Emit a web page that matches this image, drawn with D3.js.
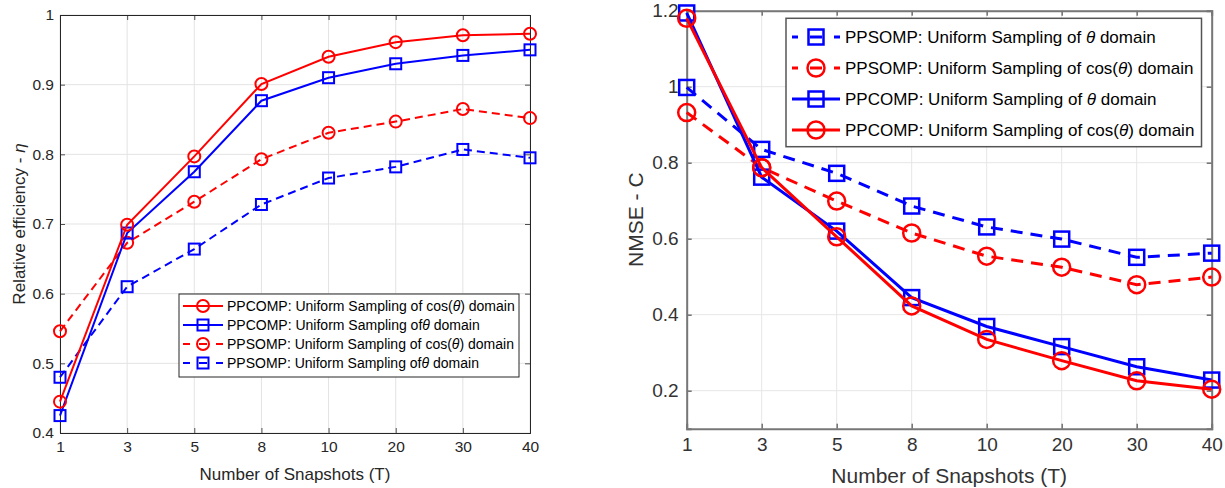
<!DOCTYPE html>
<html>
<head>
<meta charset="utf-8">
<script src="https://cdn.jsdelivr.net/npm/d3@7"></script>
<style>
  body { margin: 0; background: #fff; }
  svg { display: block; font-family: "Liberation Sans", Arial, sans-serif; }
</style>
</head>
<body>
<svg id="chart" width="1225" height="488"></svg>
<script>
// snapshot counts (categorical, evenly spaced)
var snapshots = ["1", "3", "5", "8", "10", "20", "30", "40"];

// left panel: relative efficiency
var effTicks = [0.4, 0.5, 0.6, 0.7, 0.8, 0.9, 1];
var effPpcompCos = [0.445, 0.699, 0.797, 0.901, 0.940, 0.961, 0.971, 0.973];
var effPpcompTheta = [0.425, 0.687, 0.775, 0.877, 0.910, 0.930, 0.942, 0.950];
var effPpsompCos = [0.546, 0.673, 0.732, 0.793, 0.831, 0.847, 0.865, 0.852];
var effPpsompTheta = [0.480, 0.610, 0.664, 0.728, 0.766, 0.782, 0.807, 0.795];

// right panel: NMSE
var nmseTicks = [0.2, 0.4, 0.6, 0.8, 1, 1.2];
var nmsePpsompTheta = [0.998, 0.835, 0.772, 0.686, 0.631, 0.599, 0.551, 0.562];
var nmsePpsompCos = [0.932, 0.787, 0.699, 0.615, 0.554, 0.525, 0.479, 0.499];
var nmsePpcompTheta = [1.194, 0.762, 0.620, 0.445, 0.369, 0.316, 0.263, 0.228];
var nmsePpcompCos = [1.180, 0.787, 0.605, 0.423, 0.335, 0.279, 0.226, 0.204];

var RED = "#ff0000", BLUE = "#0000ff";
var svg = d3.select("#chart");

function labelText(sel, pre, sym, post) {
  sel.append("tspan").text(pre);
  sel.append("tspan").style("font-style", "italic").text(sym);
  sel.append("tspan").text(post);
}

function drawPanel(p) {
  var x = d3.scalePoint().domain(snapshots).range([p.left, p.right]);
  var y = d3.scaleLinear().domain(p.yDomain).range([p.bottom, p.top]);
  var g = svg.append("g");

  // grid
  g.selectAll(".gx").data(snapshots).enter().append("line")
    .attr("x1", d => x(d)).attr("x2", d => x(d))
    .attr("y1", p.top).attr("y2", p.bottom)
    .attr("stroke", p.grid).attr("stroke-width", 1);
  g.selectAll(".gy").data(p.ticks).enter().append("line")
    .attr("x1", p.left).attr("x2", p.right)
    .attr("y1", d => y(d)).attr("y2", d => y(d))
    .attr("stroke", p.grid).attr("stroke-width", 1);

  // axes with inward ticks, mirrored on top/right
  var tk = 5;
  var ax = g.append("g").attr("transform", "translate(0," + p.bottom + ")")
    .call(d3.axisBottom(x).tickSize(-tk).tickPadding(p.xPad));
  var axT = g.append("g").attr("transform", "translate(0," + p.top + ")")
    .call(d3.axisTop(x).tickSize(-tk).tickFormat(""));
  var ay = g.append("g").attr("transform", "translate(" + p.left + ",0)")
    .call(d3.axisLeft(y).tickValues(p.ticks).tickSize(-tk).tickPadding(p.yPad).tickFormat(d3.format("~g")));
  var ayR = g.append("g").attr("transform", "translate(" + p.right + ",0)")
    .call(d3.axisRight(y).tickValues(p.ticks).tickSize(-tk).tickFormat(""));
  [ax, axT, ay, ayR].forEach(function (a) {
    a.select(".domain").attr("stroke", p.axis).attr("stroke-width", p.axisW);
    a.selectAll(".tick line").attr("stroke", p.axis).attr("stroke-width", p.axisW * 0.8);
    a.selectAll("text").attr("fill", p.textColor).style("font-size", p.tickFont + "px")
      .style("font-family", "Liberation Sans, Arial, sans-serif");
  });
  ax.selectAll("text").attr("dy", "0.71em");

  // x label
  g.append("text").attr("x", (p.left + p.right) / 2).attr("y", p.xLabelY)
    .attr("text-anchor", "middle").attr("fill", p.textColor)
    .style("font-size", p.labelFont + "px").text("Number of Snapshots (T)");
  // y label
  var yl = g.append("text").attr("transform", "translate(" + p.yLabelX + "," + (p.top + p.bottom) / 2 + ") rotate(-90)")
    .attr("text-anchor", "middle").attr("fill", p.textColor)
    .style("font-size", p.labelFont + "px");
  labelText(yl, p.yLabel[0], p.yLabel[1], p.yLabel[2]);

  // series
  var line = d3.line().x((d, i) => x(snapshots[i])).y(d => y(d));
  p.series.forEach(function (s) {
    var sg = g.append("g");
    sg.append("path").datum(s.values).attr("d", line)
      .attr("fill", "none").attr("stroke", s.color).attr("stroke-width", p.lineW)
      .attr("stroke-dasharray", s.dashed ? p.dash : null);
    drawMarkers(sg, s, s.values.map((v, i) => [x(snapshots[i]), y(v)]), p);
  });

  // legend
  var lg = g.append("g");
  lg.append("rect").attr("x", p.leg.x).attr("y", p.leg.y).attr("width", p.leg.w).attr("height", p.leg.h)
    .attr("fill", "#fff").attr("stroke", p.leg.stroke).attr("stroke-width", p.leg.sw);
  p.legOrder.forEach(function (s, i) {
    var cy = p.leg.row0 + i * p.leg.rowH;
    var x0 = p.leg.sx0, x1 = p.leg.sx1;
    lg.append("line").attr("x1", x0).attr("x2", x1).attr("y1", cy).attr("y2", cy)
      .attr("stroke", s.color).attr("stroke-width", p.lineW)
      .attr("stroke-dasharray", s.dashed ? p.leg.dash : null);
    drawMarkers(lg, s, [[(x0 + x1) / 2, cy]], p);
    var t = lg.append("text").attr("x", p.leg.tx).attr("y", cy).attr("dy", "0.35em")
      .attr("fill", "#000").style("font-size", p.leg.font + "px");
    labelText(t, s.name[0], s.name[1], s.name[2]);
  });
}

function drawMarkers(sel, s, pts, p) {
  if (s.marker === "circle") {
    sel.selectAll(null).data(pts).enter().append("circle")
      .attr("cx", d => d[0]).attr("cy", d => d[1]).attr("r", p.circR)
      .attr("fill", "none").attr("stroke", s.color).attr("stroke-width", p.markW);
  } else {
    sel.selectAll(null).data(pts).enter().append("rect")
      .attr("x", d => d[0] - p.sqH).attr("y", d => d[1] - p.sqH)
      .attr("width", p.sqH * 2).attr("height", p.sqH * 2)
      .attr("fill", "none").attr("stroke", s.color).attr("stroke-width", p.markW);
  }
}

// ---- left panel
var lCos1 = { values: effPpcompCos, color: RED, dashed: false, marker: "circle", name: ["PPCOMP: Uniform Sampling of cos(", "θ", ") domain"] };
var lTh1 = { values: effPpcompTheta, color: BLUE, dashed: false, marker: "square", name: ["PPCOMP: Uniform Sampling of", "θ", " domain"] };
var lCos2 = { values: effPpsompCos, color: RED, dashed: true, marker: "circle", name: ["PPSOMP: Uniform Sampling of cos(", "θ", ") domain"] };
var lTh2 = { values: effPpsompTheta, color: BLUE, dashed: true, marker: "square", name: ["PPSOMP: Uniform Sampling of", "θ", " domain"] };

drawPanel({
  left: 60, right: 530, top: 15, bottom: 433, yDomain: [0.4, 1], ticks: effTicks,
  grid: "#e3e3e3", axis: "#262626", axisW: 1, textColor: "#262626",
  tickFont: 15.5, labelFont: 17, xPad: 8, yPad: 6, xLabelY: 480,
  yLabelX: 25, yLabel: ["Relative efficiency - ", "η", ""],
  lineW: 2, dash: "8,5", circR: 6, sqH: 5.5, markW: 2,
  series: [lCos2, lTh2, lTh1, lCos1],
  legOrder: [lCos1, lTh1, lCos2, lTh2],
  leg: { x: 179, y: 294, w: 340, h: 83, stroke: "#262626", sw: 1, row0: 306, rowH: 19,
         sx0: 183, sx1: 223, tx: 227, font: 14, dash: "7,9,8,9,7" }
});

// ---- right panel
var rTh2 = { values: nmsePpsompTheta, color: BLUE, dashed: true, marker: "square", name: ["PPSOMP: Uniform Sampling of ", "θ", " domain"] };
var rCos2 = { values: nmsePpsompCos, color: RED, dashed: true, marker: "circle", name: ["PPSOMP: Uniform Sampling of cos(", "θ", ") domain"] };
var rTh1 = { values: nmsePpcompTheta, color: BLUE, dashed: false, marker: "square", name: ["PPCOMP: Uniform Sampling of ", "θ", " domain"] };
var rCos1 = { values: nmsePpcompCos, color: RED, dashed: false, marker: "circle", name: ["PPCOMP: Uniform Sampling of cos(", "θ", ") domain"] };

drawPanel({
  left: 686.7, right: 1211.7, top: 10.7, bottom: 428.7, yDomain: [0.1, 1.2], ticks: nmseTicks,
  grid: "#e6e6e6", axis: "#777", axisW: 2, textColor: "#333",
  tickFont: 19, labelFont: 21, xPad: 9, yPad: 8, xLabelY: 483,
  yLabelX: 643, yLabel: ["NMSE - C", "", ""],
  lineW: 3, dash: "12,8", circR: 8.5, sqH: 7.5, markW: 2.5,
  series: [rTh2, rCos2, rTh1, rCos1],
  legOrder: [rTh2, rCos2, rTh1, rCos1],
  leg: { x: 786, y: 18.3, w: 415.5, h: 128.4, stroke: "#555", sw: 1.5, row0: 37, rowH: 31,
         sx0: 792, sx1: 840, tx: 845, font: 17, dash: "6,12,12,12,6" }
});
</script>
</body>
</html>
